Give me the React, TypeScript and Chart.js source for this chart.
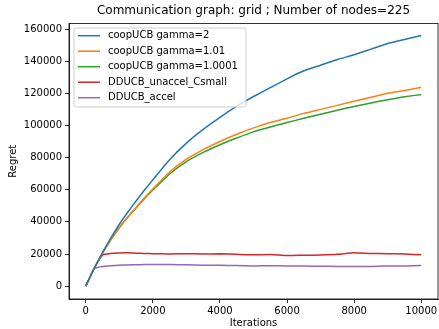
import React, { useEffect, useRef } from "react";
import { Chart, registerables } from "chart.js";

Chart.register(...registerables);

const iterations = [0, 250, 500, 750, 1000, 1250, 1500, 1750, 2000, 2500, 3000, 3500, 4000, 4500, 5000, 5500, 6000, 6500, 7000, 7500, 8000, 8500, 9000, 9500, 10000];

const coopGamma2 = [0, 11000, 21000, 30000, 38500, 46000, 53000, 59800, 66200, 78700, 89000, 97500, 105000, 112000, 118000, 123500, 129000, 134000, 137500, 141000, 144000, 147500, 151000, 153500, 156000];
const coopGamma101 = [0, 11000, 20500, 29000, 36500, 43000, 49000, 55000, 60500, 71000, 79000, 85000, 90000, 94500, 98500, 101800, 104500, 107500, 110000, 112500, 115000, 117500, 120000, 121800, 123700];
const coopGamma10001 = [0, 11000, 20500, 29000, 36300, 42800, 48700, 54500, 59800, 69800, 77500, 83200, 88000, 92200, 96000, 99000, 101800, 104500, 107000, 109500, 111800, 114000, 116000, 117800, 119300];
const ddUnaccel = [0, 11000, 19300, 20300, 20700, 20800, 20500, 20300, 20200, 20000, 20200, 20000, 20100, 19800, 19500, 19700, 19000, 19200, 19400, 19800, 20800, 20300, 20200, 20000, 19500];
const ddAccel = [0, 10800, 12200, 12700, 13000, 13200, 13300, 13400, 13500, 13400, 13300, 13000, 13000, 12800, 12600, 12700, 12600, 12500, 12400, 12300, 12200, 12300, 12600, 12500, 12800];

const seriesLabels = ["coopUCB gamma=2", "coopUCB gamma=1.01", "coopUCB gamma=1.0001", "DDUCB_unaccel_Csmall", "DDUCB_accel"];
const seriesColors = ["#1f77b4", "#ff7f0e", "#2ca02c", "#d62728", "#9467bd"];
const seriesValues = [coopGamma2, coopGamma101, coopGamma10001, ddUnaccel, ddAccel];

const xTicks = [0, 2000, 4000, 6000, 8000, 10000];
const yTicks = [0, 20000, 40000, 60000, 80000, 100000, 120000, 140000, 160000];

const FONT = "DejaVu Sans";

const framePlugin = {
  id: "frameAndLegend",
  afterDatasetsDraw(chart: any) {
    const { ctx, chartArea } = chart;
    ctx.save();
    ctx.strokeStyle = "#000";
    ctx.lineWidth = 0.8;
    ctx.strokeRect(chartArea.left, chartArea.top, chartArea.right - chartArea.left, chartArea.bottom - chartArea.top);

    // legend box
    const bx = 74, by = 28, bw = 172, bh = 79, r = 2.5;
    ctx.beginPath();
    ctx.moveTo(bx + r, by);
    ctx.lineTo(bx + bw - r, by);
    ctx.quadraticCurveTo(bx + bw, by, bx + bw, by + r);
    ctx.lineTo(bx + bw, by + bh - r);
    ctx.quadraticCurveTo(bx + bw, by + bh, bx + bw - r, by + bh);
    ctx.lineTo(bx + r, by + bh);
    ctx.quadraticCurveTo(bx, by + bh, bx, by + bh - r);
    ctx.lineTo(bx, by + r);
    ctx.quadraticCurveTo(bx, by, bx + r, by);
    ctx.closePath();
    ctx.fillStyle = "rgba(255,255,255,0.8)";
    ctx.fill();
    ctx.strokeStyle = "#cccccc";
    ctx.lineWidth = 1;
    ctx.stroke();

    ctx.font = `10px "${FONT}"`;
    ctx.textBaseline = "middle";
    ctx.textAlign = "left";
    seriesLabels.forEach((label, i) => {
      const y = 35.7 + i * 15.5;
      ctx.strokeStyle = seriesColors[i];
      ctx.lineWidth = 1.5;
      ctx.beginPath();
      ctx.moveTo(78, y);
      ctx.lineTo(100, y);
      ctx.stroke();
      ctx.fillStyle = "#000";
      ctx.fillText(label, 108, y);
    });
    ctx.restore();
  },
};

export default function App() {
  const canvasRef = useRef<HTMLCanvasElement | null>(null);

  useEffect(() => {
    document.body.style.margin = "0";
    const canvas = canvasRef.current;
    if (!canvas) return;
    Chart.defaults.font.family = FONT;
    const datasets = seriesLabels.map((label, i) => ({
      label,
      data: iterations.map((x, j) => ({ x, y: seriesValues[i][j] })),
      borderColor: seriesColors[i],
      backgroundColor: seriesColors[i],
      borderWidth: 1.5,
      pointRadius: 0,
      tension: 0.15,
      fill: false,
    }));
    const chart = new Chart(canvas, {
      type: "line",
      data: { datasets },
      plugins: [framePlugin],
      options: {
        animation: false,
        responsive: false,
        devicePixelRatio: 1,
        layout: { padding: { left: 0, right: 1, top: 0, bottom: 0 } },
        plugins: {
          legend: { display: false },
          tooltip: { enabled: false },
          title: {
            display: true,
            text: "Communication graph: grid ; Number of nodes=225",
            fullSize: false,
            color: "#000",
            font: { family: FONT, size: 12, weight: "normal" },
            padding: { top: 4, bottom: 5 },
          },
        },
        scales: {
          x: {
            type: "linear",
            min: -500,
            max: 10500,
            afterBuildTicks: (scale: any) => {
              scale.ticks = xTicks.map((v) => ({ value: v }));
            },
            afterFit: (scale: any) => {
              scale.height = 30;
              scale.paddingLeft = 0;
              scale.paddingRight = 0;
            },
            ticks: {
              color: "#000",
              font: { family: FONT, size: 10 },
              padding: 2,
              maxRotation: 0,
              autoSkip: false,
              callback: (v: any) => String(v),
            },
            grid: { drawOnChartArea: false, drawTicks: true, tickLength: 4, color: "#000", lineWidth: 0.8 },
            border: { display: true, color: "#000", width: 0.8 },
            title: { display: true, text: "Iterations", color: "#000", font: { family: FONT, size: 10 }, padding: { top: 0, bottom: 0 } },
          },
          y: {
            type: "linear",
            min: -8000,
            max: 163500,
            afterBuildTicks: (scale: any) => {
              scale.ticks = yTicks.map((v) => ({ value: v }));
            },
            afterFit: (scale: any) => {
              scale.width = 69;
              scale.paddingTop = 0;
              scale.paddingBottom = 0;
            },
            ticks: {
              color: "#000",
              font: { family: FONT, size: 10 },
              padding: 3,
              autoSkip: false,
              callback: (v: any) => String(v),
            },
            grid: { drawOnChartArea: false, drawTicks: true, tickLength: 4, color: "#000", lineWidth: 0.8 },
            border: { display: true, color: "#000", width: 0.8 },
            title: { display: true, text: "Regret", color: "#000", font: { family: FONT, size: 10 }, padding: { top: 7, bottom: 0 } },
          },
        },
      } as any,
    });
    return () => chart.destroy();
  }, []);

  return (
    <div style={{ width: 439, height: 329 }}>
      <canvas ref={canvasRef} width={439} height={329} />
    </div>
  );
}
